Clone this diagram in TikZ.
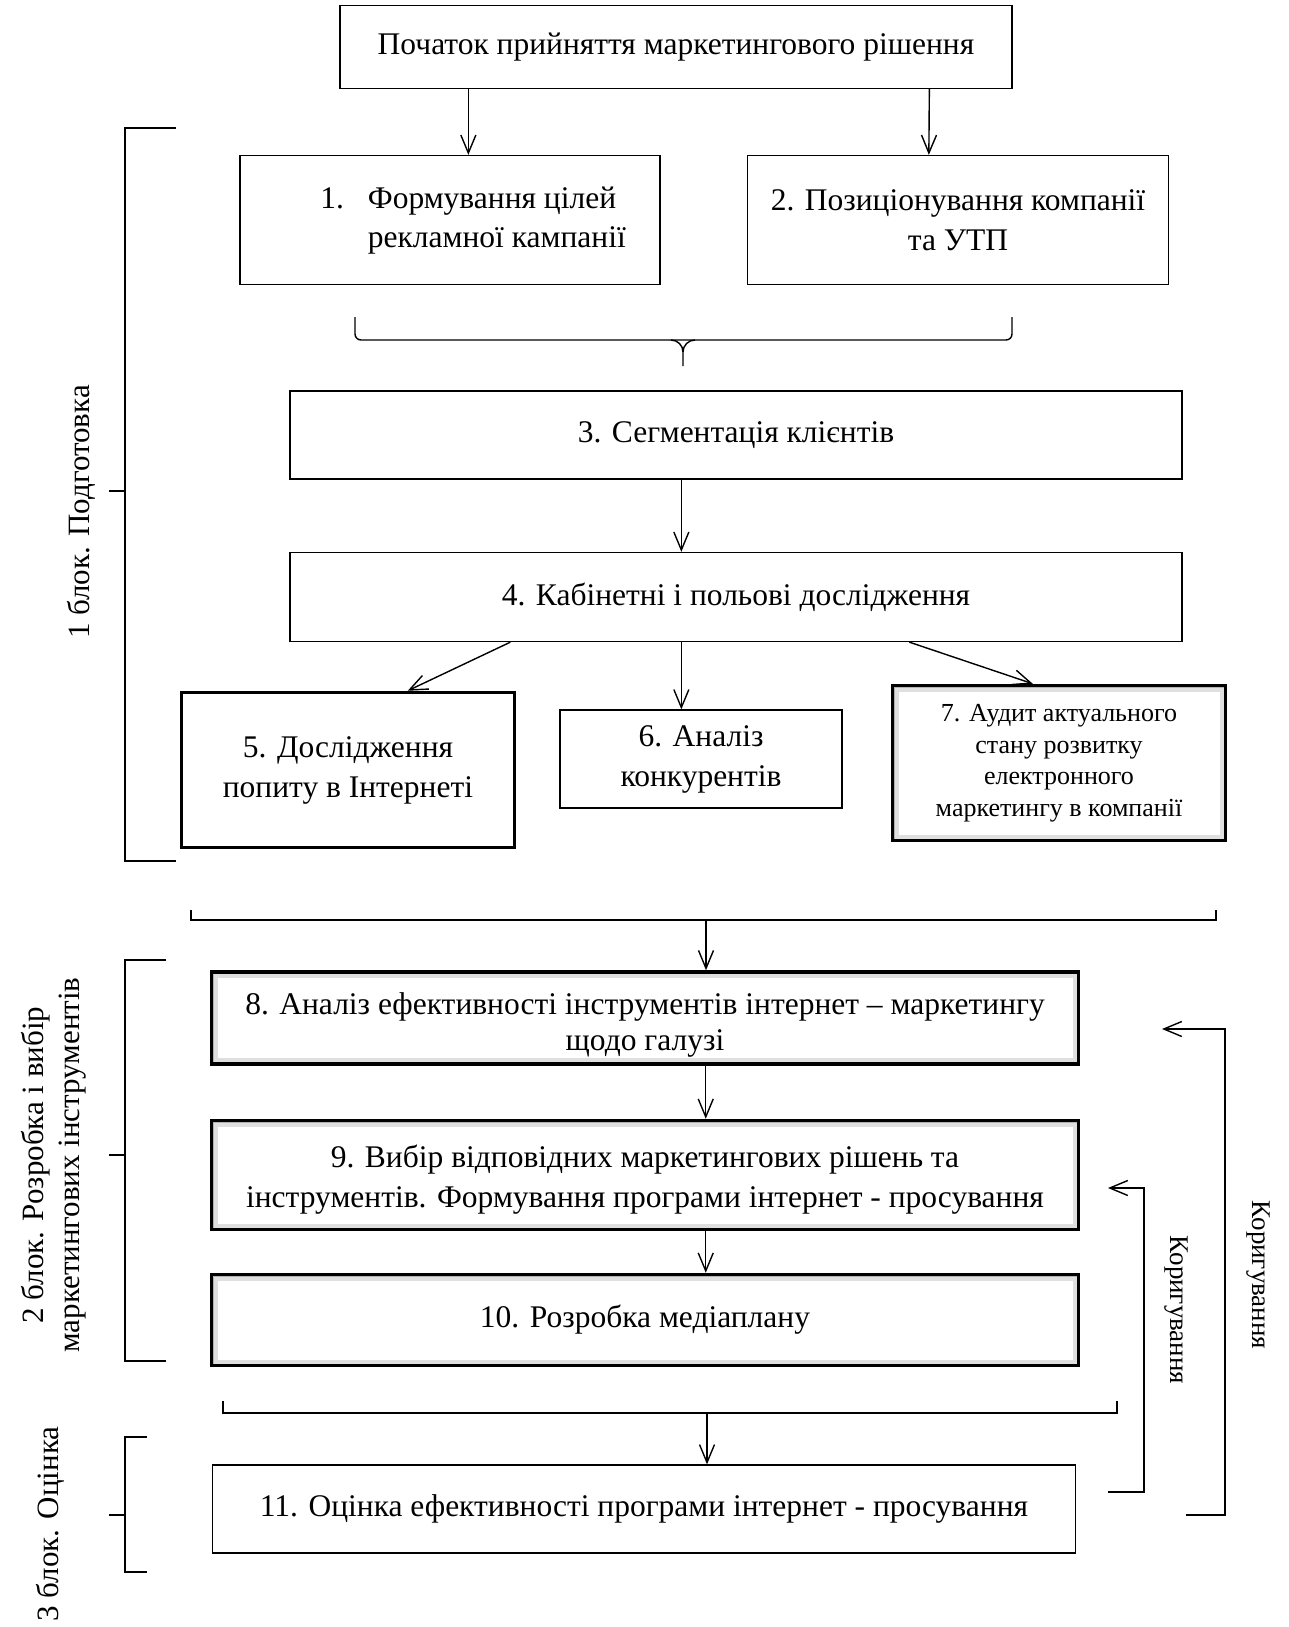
\documentclass[tikz,border=0pt]{standalone}
\usepackage{fontspec}
\setmainfont{Liberation Serif}
\usepackage{tikz}
\usetikzlibrary{arrows.meta, positioning}

\begin{document}
\begin{tikzpicture}[x=1pt, y=-1pt,
            box/.style   ={rectangle, draw, line width=1.3pt, align=center, inner sep=0pt,
                           font=\fontsize{31.5}{40}\selectfont},
            boldbox/.style={box, line width=3.5pt},
            bevel/.style ={box, line width=3.5pt,
                           path picture={
                             \draw[gray!25, line width=12pt] (path picture bounding box.south west) rectangle (path picture bounding box.north east);
                             \draw[gray!60, line width=4pt] (path picture bounding box.south west) rectangle (path picture bounding box.north east);}},
            arr/.style   ={-{Straight Barb[length=18pt, width=15pt]}, line width=1.4pt},
            brc/.style   ={line width=1.4pt},
            lbl/.style   ={font=\fontsize{31}{36}\selectfont, align=center, inner sep=0pt},
            korlbl/.style={font=\fontsize{27}{32}\selectfont, inner sep=0pt, rotate=-90}
        ]
            \useasboundingbox (0,0) rectangle (1289,1627);

            % --- Blok 1 ---
            \node[box, minimum width=672pt, minimum height=83pt]  (poch)  at (676,47)  {Початок прийняття маркетингового рішення};
            \node[box, minimum width=420pt, minimum height=129pt] (cili)  at (450,220) {\hspace*{46pt}\begin{tabular}{@{}l@{\hspace{24pt}}l@{}}1. & Формування цілей\\[-1pt] \hspace*{-8pt}& рекламної кампанії\end{tabular}};
            \node[box, minimum width=421pt, minimum height=129pt] (pozyc) at (958,220) {2. Позиціонування компанії\\та УТП};
            \node[box, minimum width=892pt, minimum height=88pt]  (segm)  at (736,435) {3. Сегментація клієнтів};
            \node[box, minimum width=892pt, minimum height=89pt]  (kab)   at (736,597) {4. Кабінетні і польові дослідження};
            \node[boldbox, minimum width=333pt, minimum height=155pt] (popyt) at (348,770) {5. Дослідження\\попиту в Інтернеті};
            \node[box, minimum width=282pt, minimum height=98pt]  (konk)  at (701,759) {6. Аналіз\\конкурентів};
            \node[bevel, minimum width=333pt, minimum height=155pt, font=\fontsize{26}{31.5}\selectfont] (audyt) at (1059,763)
                {7. Аудит актуального\\стану розвитку\\електронного\\маркетингу в компанії};

            % --- Blok 2 ---
            \node[bevel, minimum width=867pt, minimum height=92pt, font=\fontsize{31.5}{36}\selectfont, text height=72pt] (efekt) at (645,1018)
                {8. Аналіз ефективності інструментів інтернет – маркетингу\\щодо галузі};
            \node[bevel, minimum width=867pt, minimum height=109pt, text height=72pt] (vybir) at (645,1175)
                {9. Вибір відповідних маркетингових рішень та\\інструментів. Формування програми інтернет - просування};
            \node[bevel, minimum width=867pt, minimum height=91pt]  (media) at (645,1320) {10. Розробка медіаплану};

            % --- Blok 3 ---
            \node[box, minimum width=863pt, minimum height=88pt]  (ocinka) at (644,1509) {11. Оцінка ефективності програми інтернет - просування};

            % --- Pidpysy blokiv ---
            \node[lbl, rotate=90] (blok1) at (81,512)   {1 блок. Подготовка};
            \node[lbl, rotate=90] (blok2) at (54,1165)  {2 блок. Розробка і вибір\\маркетингових інструментів};
            \node[lbl, rotate=90] (blok3) at (50,1524)  {3 блок. Оцінка};

            % --- Strilky ---
            \draw[arr] ([xshift=129pt]poch.south west) -- ([xshift=229pt]cili.north west);
            \draw[arr] ([xshift=590pt]poch.south west) -- ([xshift=182pt]pozyc.north west);

            % duzhka pid 1 i 2
            \draw[brc, rounded corners=6pt] (355,317) -- (355,340) -- (1012,340) -- (1012,317);
            \draw[brc] (671,340) to[out=0, in=90] (683,352) -- (683,366);
            \draw[brc] (695,340) to[out=180, in=90] (683,352);

            \draw[arr] ([xshift=392pt]segm.south west) -- ([xshift=392pt]kab.north west);
            \draw[arr] ([xshift=221pt]kab.south west)  -- ([xshift=228pt]popyt.north west);
            \draw[arr] ([xshift=392pt]kab.south west)  -- ([xshift=122pt]konk.north west);
            \draw[arr] ([xshift=620pt]kab.south west)  -- ([xshift=142pt]audyt.north west);

            % duzhka pid 5, 6, 7
            \coordinate (d2) at (706,920);
            \draw[brc, line width=2.5pt] (191,910) -- (191,920) -- (1216,920) -- (1216,910);
            \draw[arr] (d2) -- (efekt.north -| d2);

            \draw[arr] ([xshift=496pt]efekt.south west) -- ([xshift=496pt]vybir.north west);
            \draw[arr] ([xshift=496pt]vybir.south west) -- ([xshift=496pt]media.north west);

            % duzhka pid 10
            \coordinate (d3) at (707,1413);
            \draw[brc, line width=2.5pt] (223,1401) -- (223,1413) -- (1117,1413) -- (1117,1401);
            \draw[arr] (d3) -- (ocinka.north -| d3);

            % levi duzhky
            \draw[brc] (176,128) -- (125,128) -- (125,861) -- (176,861);
            \draw[brc] (109,491) -- (125,491);
            \draw[brc] (166,960) -- (125,960) -- (125,1361) -- (166,1361);
            \draw[brc] (109,1155) -- (125,1155);
            \draw[brc] (147,1437) -- (125,1437) -- (125,1572) -- (147,1572);
            \draw[brc] (109,1515) -- (125,1515);

            % Koryguvannja
            \coordinate (k1a) at (1108,1492);
            \coordinate (k1b) at (1108,1188);
            \draw[arr] (k1a) -- ++(36,0) |- (k1b);
            \node[korlbl] (kor1) at (1176,1310) {Коригування};

            \coordinate (k2a) at (1186,1515);
            \coordinate (k2b) at (1162,1029);
            \draw[arr] (k2a) -- ++(39,0) |- (k2b);
            \node[korlbl] (kor2) at (1258,1275) {Коригування};
        \end{tikzpicture}
\end{document}
